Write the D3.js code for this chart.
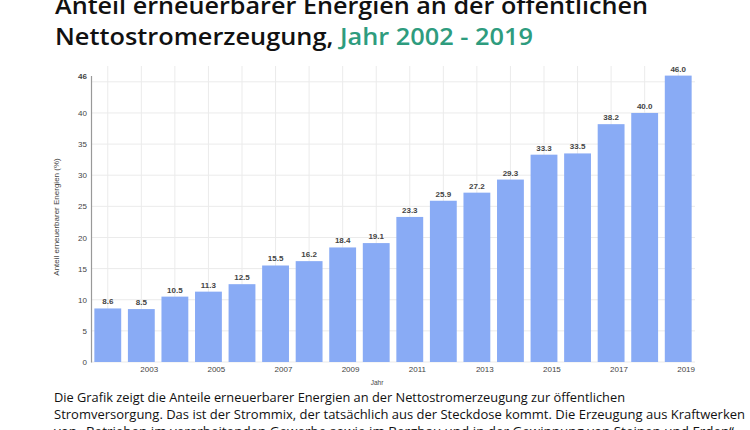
<!DOCTYPE html>
<html><head><meta charset="utf-8">
<script src="https://cdn.jsdelivr.net/npm/d3@7"></script>
<style>body{margin:0;background:#fff}svg{display:block}</style>
</head><body>
<svg id="c" width="750" height="430"></svg>
<script>
const years = [2002,2003,2004,2005,2006,2007,2008,2009,2010,2011,2012,2013,2014,2015,2016,2017,2018,2019];
const shares = [8.6,8.5,10.5,11.3,12.5,15.5,16.2,18.4,19.1,23.3,25.9,27.2,29.3,33.3,33.5,38.2,40.0,46.0];
const yTicks = [0,5,10,15,20,25,30,35,40,46];
const gridValues = [0,5,10,15,20,25,30,35,40,45];
const xTickYears = [2003,2005,2007,2009,2011,2013,2015,2017,2019];
const titleLine1 = "Anteil erneuerbarer Energien an der öffentlichen";
const titleLine2a = "Nettostromerzeugung, ";
const titleLine2b = "Jahr 2002 - 2019";
const yLabel = "Anteil erneuerbarer Energien (%)";
const xLabel = "Jahr";
const noteLines = [
 "Die Grafik zeigt die Anteile erneuerbarer Energien an der Nettostromerzeugung  zur öffentlichen",
 "Stromversorgung. Das ist der Strommix, der tatsächlich aus der Steckdose kommt. Die Erzeugung aus Kraftwerken",
 "von „Betrieben im verarbeitenden Gewerbe sowie im Bergbau und in der Gewinnung von Steinen und Erden“"
];

const svg = d3.select("#c");
const x = d3.scaleBand().domain(years).range([91,695]).paddingInner(0.2).paddingOuter(0.1);
const y = d3.scaleLinear().domain([0,46]).range([362,75.6]);

function fit(sel, w){
  const n = sel.node(); const l = n.getComputedTextLength();
  if (l>0) sel.attr("textLength", w).attr("lengthAdjust","spacingAndGlyphs");
}

// title
const tf = "'Open Sans', sans-serif";
const t1 = svg.append("text").attr("x",55).attr("y",14).attr("font-family",tf).attr("font-weight",600)
  .attr("font-size",24).attr("fill","#111").text(titleLine1);
fit(t1, 593);
const t2 = svg.append("text").attr("x",55).attr("y",45).attr("font-family",tf).attr("font-weight",600)
  .attr("font-size",24).attr("fill","#111");
t2.append("tspan").text(titleLine2a);
t2.append("tspan").attr("fill","#2e9c7e").text(titleLine2b);
fit(t2, 478);

// grid
const g = svg.append("g");
g.selectAll("line.h").data(gridValues).join("line")
  .attr("x1",91).attr("x2",695).attr("y1",d=>y(d)).attr("y2",d=>y(d))
  .attr("stroke","#ebebeb").attr("stroke-width",1);
g.selectAll("line.v").data(years).join("line")
  .attr("x1",d=>x(d)+x.bandwidth()/2).attr("x2",d=>x(d)+x.bandwidth()/2)
  .attr("y1",66).attr("y2",362).attr("stroke","#ebebeb").attr("stroke-width",1);

// bars
svg.append("g").selectAll("rect").data(shares).join("rect")
  .attr("x",(d,i)=>x(years[i])).attr("width",x.bandwidth())
  .attr("y",d=>y(d)).attr("height",d=>y(0)-y(d)).attr("fill","#89abf5");

// value labels
svg.append("g").selectAll("text").data(shares).join("text")
  .attr("x",(d,i)=>x(years[i])+x.bandwidth()/2).attr("y",d=>y(d)-4)
  .attr("text-anchor","middle").attr("font-family","Arial, 'Liberation Sans', sans-serif")
  .attr("font-size",8).attr("font-weight","bold").attr("fill","#444")
  .text(d=>d.toFixed(1));

// y axis
const yAxis = d3.axisLeft(y).tickValues(yTicks).tickSize(0).tickPadding(4).tickFormat(d3.format("d"));
const ya = svg.append("g").attr("transform","translate(91,0)").call(yAxis);
ya.select(".domain").attr("stroke","#999").attr("stroke-width",1.2);
ya.selectAll("text").attr("font-family","Arial, 'Liberation Sans', sans-serif").attr("font-size",8).attr("fill","#444")
  .attr("font-weight",d=>d===46?"bold":"normal");

// x axis
const xAxis = d3.axisBottom(x).tickValues(xTickYears).tickSize(0).tickPadding(4);
const xa = svg.append("g").attr("transform","translate(0,362)").call(xAxis);
xa.select(".domain").remove();
xa.selectAll("text").attr("font-family","Arial, 'Liberation Sans', sans-serif").attr("font-size",8).attr("fill","#444")
  .attr("text-anchor","start").attr("dx",-1);

// axis titles
svg.append("text").attr("transform","translate(59,217) rotate(-90)").attr("text-anchor","middle")
  .attr("font-family","Arial, 'Liberation Sans', sans-serif").attr("font-size",8).attr("fill","#444").text(yLabel);
svg.append("text").attr("x",377).attr("y",385).attr("text-anchor","middle")
  .attr("font-family","Arial, 'Liberation Sans', sans-serif").attr("font-size",6.5).attr("fill","#444").text(xLabel);

// note
const noteW = [571, 691, 680];
noteLines.forEach((s,i)=>{
  const t = svg.append("text").attr("x",54).attr("y",402+i*17).attr("font-family",tf)
    .attr("font-size",13.5).attr("fill","#111").text(s);
  fit(t, noteW[i]);
});
</script>
</body></html>
